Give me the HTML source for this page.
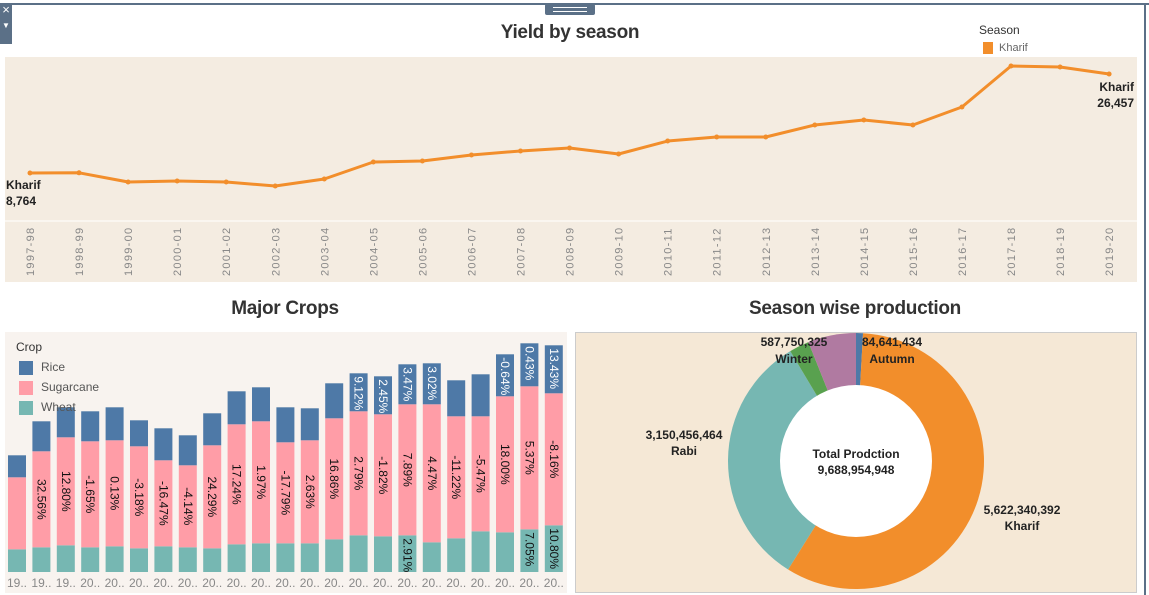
<!DOCTYPE html>
<html><head><meta charset="utf-8"><style>
body{margin:0;width:1149px;height:595px;overflow:hidden;background:#fff;font-family:"Liberation Sans",sans-serif;position:relative}
.abs{position:absolute}
.title{font-weight:bold;font-size:19px;color:#333;text-align:center;letter-spacing:-0.3px}
</style></head><body>
<div class="abs" style="left:0;top:3px;width:1149px;height:2px;background:#5b7087"></div>
<div class="abs" style="left:1144px;top:3px;width:2px;height:592px;background:#5b7087"></div>
<div class="abs" style="left:0;top:3px;width:12px;height:41px;background:#5b7087;color:#fff;font-size:13px;line-height:14px;text-align:center">×<br><span style="font-size:8px">▼</span></div>
<div class="abs" style="left:545px;top:4px;width:50px;height:11px;background:#5b7087;border-radius:2px"><div style="margin:3px 8px;height:1px;background:#fff"></div><div style="margin:2px 8px;height:1px;background:#fff"></div></div>
<div class="abs title" style="left:370px;top:22px;width:400px">Yield by season</div>
<div class="abs" style="left:979px;top:23px;font-size:12px;color:#333">Season</div>
<div class="abs" style="left:983px;top:42px;font-size:11px;color:#666"><span style="display:inline-block;width:10px;height:12px;background:#f28e2b;vertical-align:middle;margin-right:6px"></span>Kharif</div>
<svg class="abs" style="left:0;top:0" width="1149" height="595" id="svg">
<rect x="5" y="57" width="1132" height="225" fill="#f4ece1"/>
<line x1="5" y1="221" x2="1137" y2="221" stroke="#fff" stroke-width="1"/>
<g id="line"></g>
<rect x="5" y="332" width="562" height="261" fill="#f8f3ef"/>
<g id="bars"></g>
<rect x="575.5" y="332.5" width="561" height="260" fill="#f5e8d6" stroke="#ccc"/>
<g id="donut"></g>
</svg>
<div class="abs title" style="left:135px;top:298px;width:300px">Major Crops</div>
<div class="abs title" style="left:705px;top:298px;width:300px">Season wise production</div>
<div class="abs" style="left:16px;top:337px;font-size:12px;color:#333;line-height:20px">
<div>Crop</div>
<div style="color:#555"><span style="display:inline-block;width:14px;height:14px;background:#4e79a7;vertical-align:middle;margin:0 8px 0 3px"></span>Rice</div>
<div style="color:#555"><span style="display:inline-block;width:14px;height:14px;background:#ff9da7;vertical-align:middle;margin:0 8px 0 3px"></span>Sugarcane</div>
<div style="color:#555"><span style="display:inline-block;width:14px;height:14px;background:#76b7b2;vertical-align:middle;margin:0 8px 0 3px"></span>Wheat</div>
</div>
<script>
const NS="http://www.w3.org/2000/svg";
const years=["1997-98","1998-99","1999-00","2000-01","2001-02","2002-03","2003-04","2004-05","2005-06","2006-07","2007-08","2008-09","2009-10","2010-11","2011-12","2012-13","2013-14","2014-15","2015-16","2016-17","2017-18","2018-19","2019-20"];
const yieldKharif=[8764,8800,7160,7340,7160,6440,7690,10730,10910,11980,12700,13230,12160,14480,15200,15200,17340,18240,17340,20560,27890,27710,26457];
const wheat=[227,247,267,247,257,237,257,247,237,277,287,287,287,327,367,357,367,297,337,407,397,427,467];
const sugarcane=[720,960,1080,1060,1060,1020,860,820,1030,1200,1220,1010,1030,1210,1240,1220,1310,1380,1220,1150,1360,1430,1320];
const rice=[220,300,300,300,330,260,320,300,320,330,340,350,320,350,380,380,400,410,360,420,420,430,480];
const sugarLabels=["","32.56%","12.80%","-1.65%","0.13%","-3.18%","-16.47%","-4.14%","24.29%","17.24%","1.97%","-17.79%","2.63%","16.86%","2.79%","-1.82%","7.89%","4.47%","-11.22%","-5.47%","18.00%","5.37%","-8.16%"];
const riceLabels=["","","","","","","","","","","","","","","9.12%","2.45%","3.47%","3.02%","","","-0.64%","0.43%","13.43%"];
const wheatLabels=["","","","","","","","","","","","","","","","","2.91%","","","","","7.05%","10.80%"];
const barYears=["19..","19..","19..","20..","20..","20..","20..","20..","20..","20..","20..","20..","20..","20..","20..","20..","20..","20..","20..","20..","20..","20..","20.."];
const seasons=["Autumn","Kharif","Rabi","Whole Year","Winter"];
const production=[84641434,5622340392,3150456464,243766333,587750325];
function el(t,a,p){const e=document.createElementNS(NS,t);for(const k in a)e.setAttribute(k,a[k]);p.appendChild(e);return e}
const lx=i=>30+i*49.05, ly=v=>173-(v-8764)/178.7;
const lg=document.getElementById('line');
let d=yieldKharif.map((v,i)=>(i?'L':'M')+lx(i)+','+ly(v)).join('');
const path=el('path',{d:d,fill:'none',stroke:'#f28e2b','stroke-width':3,'stroke-linejoin':'round'},lg);


yieldKharif.forEach((v,i)=>{const c=el('circle',{cx:lx(i),cy:ly(v),r:2.5,fill:'#f28e2b'},lg);


const t=el('text',{x:0,y:0,transform:`translate(${lx(i)+4},276) rotate(-90)`,'font-size':11,fill:'#888','letter-spacing':'1.3'},lg);t.textContent=years[i];

});
function lbl(x,y,s,anchor){const t=el('text',{x:x,y:y,'font-size':12,'font-weight':'bold',fill:'#222','text-anchor':anchor},lg);t.textContent=s;

}
const n=yieldKharif.length-1;
lbl(6,ly(yieldKharif[0])+16,"Kharif","start");lbl(6,ly(yieldKharif[0])+32,yieldKharif[0].toLocaleString('en-US'),"start");
lbl(1134,ly(yieldKharif[n])+17,"Kharif","end");lbl(1134,ly(yieldKharif[n])+33,yieldKharif[n].toLocaleString('en-US'),"end");
const bg=document.getElementById('bars');
const bx=i=>8+i*24.4, bw=18, base=572, k=0.1;
function vtxt(x,y,s,col,nm){const t=el('text',{x:0,y:0,transform:`translate(${x},${y}) rotate(90)`,'font-size':12,fill:col,'dominant-baseline':'central'},bg);t.textContent=s;

return t;}
years.forEach((y,i)=>{
 const hw=wheat[i]*k,hs=sugarcane[i]*k,hr=rice[i]*k,x=bx(i);
 const r1=el('rect',{x:x,y:base-hw,width:bw,height:hw,fill:'#76b7b2'},bg);
 
 
 const r2=el('rect',{x:x,y:base-hw-hs,width:bw,height:hs,fill:'#ff9da7'},bg);
 
 
 const r3=el('rect',{x:x,y:base-hw-hs-hr,width:bw,height:hr,fill:'#4e79a7'},bg);
 
 
 if(sugarLabels[i]){const t=vtxt(x+bw/2,base-hw-hs/2,sugarLabels[i],'#111','sugarcane-change-label');t.setAttribute('text-anchor','middle');}
 if(riceLabels[i])vtxt(x+bw/2,base-hw-hs-hr+3,riceLabels[i],'#fff','rice-change-label');
 if(wheatLabels[i])vtxt(x+bw/2,base-hw+3,wheatLabels[i],'#111','wheat-change-label');
 const t=el('text',{x:x-1,y:587,'font-size':12,fill:'#888'},bg);t.textContent=barYears[i];
 
 
});
const dg=document.getElementById('donut');
const cx=856,cy=461,R=128,r=76,cols=['#4e79a7','#f28e2b','#76b7b2','#59a14f','#b07aa1'];
const total=production.reduce((a,b)=>a+b,0);let a0=0;
production.forEach((v,i)=>{const a1=a0+v/total*2*Math.PI;
 const p=(a,rr)=>[cx+rr*Math.sin(a),cy-rr*Math.cos(a)];
 const [x0,y0]=p(a0,R),[x1,y1]=p(a1,R);const lf=(a1-a0)>Math.PI?1:0;
 const s=el('path',{d:`M${cx},${cy}L${x0},${y0}A${R},${R} 0 ${lf} 1 ${x1},${y1}Z`,fill:cols[i]},dg);
 
 
 a0=a1;});
const hole=el('circle',{cx:cx,cy:cy,r:r,fill:'#fff'},dg);


function dt(x,y,s,anchor,nm){const t=el('text',{x:x,y:y,'font-size':12,'font-weight':'bold',fill:'#222','text-anchor':anchor},dg);t.textContent=s;

}
dt(cx,458,"Total Prodction","middle","total-label");
dt(cx,474,total.toLocaleString('en-US'),"middle","total-value");
dt(892,346,production[0].toLocaleString('en-US'),"middle","autumn-value");dt(892,363,seasons[0],"middle","autumn-label");
dt(1022,514,production[1].toLocaleString('en-US'),"middle","kharif-value");dt(1022,530,seasons[1],"middle","kharif-label");
dt(684,439,production[2].toLocaleString('en-US'),"middle","rabi-value");dt(684,455,seasons[2],"middle","rabi-label");
dt(794,346,production[4].toLocaleString('en-US'),"middle","winter-value");dt(794,363,seasons[4],"middle","winter-label");
</script>
</body></html>
